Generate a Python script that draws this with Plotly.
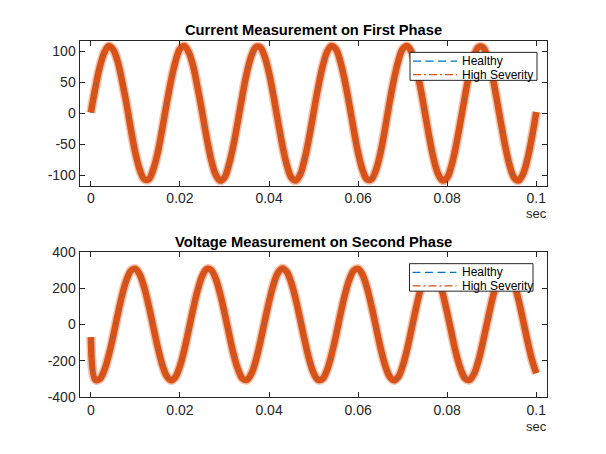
import plotly.graph_objects as go

# time axis (seconds), 1 ms steps
t = [round(k * 0.001, 3) for k in range(101)]

current_healthy = [
    0, 40, 74, 98, 108, 103, 83, 52, 14, -27,
    -64, -91, -106, -106, -91, -64, -27, 14, 52, 83,
    103, 108, 98, 74, 40, 0, -40, -74, -98, -108,
    -103, -83, -52, -14, 27, 64, 91, 106, 106, 91,
    64, 27, -14, -52, -83, -103, -108, -98, -74, -40,
    0, 40, 74, 98, 108, 103, 83, 52, 14, -27,
    -64, -91, -106, -106, -91, -64, -27, 14, 52, 83,
    103, 108, 98, 74, 40, 0, -40, -74, -98, -108,
    -103, -83, -52, -14, 27, 64, 91, 106, 106, 91,
    64, 27, -14, -52, -83, -103, -108, -98, -74, -40,
    0,
]
current_high = [
    1, 41, 75, 98, 109, 103, 84, 52, 15, -27,
    -65, -92, -107, -107, -91, -64, -26, 15, 53, 84,
    104, 109, 98, 75, 40, 1, -40, -75, -99, -109,
    -104, -83, -52, -13, 28, 65, 92, 107, 107, 92,
    65, 28, -13, -52, -84, -104, -109, -99, -74, -39,
    1, 41, 75, 99, 109, 104, 84, 53, 15, -26,
    -64, -92, -107, -107, -92, -65, -27, 15, 53, 84,
    104, 109, 99, 75, 41, 1, -40, -75, -99, -109,
    -104, -84, -52, -13, 28, 65, 92, 107, 107, 92,
    65, 28, -13, -52, -84, -104, -109, -99, -75, -40,
    2,
]
voltage_healthy = [
    -90, -305, -300, -253, -170, -64, 51, 160, 245, 297,
    306, 273, 201, 101, -13, -125, -220, -284, -308, -289,
    -229, -137, -26, 89, 191, 267, 305, 300, 253, 170,
    64, -51, -160, -245, -297, -306, -273, -201, -101, 13,
    125, 220, 284, 308, 289, 229, 137, 26, -89, -191,
    -267, -305, -300, -253, -170, -64, 51, 160, 245, 297,
    306, 273, 201, 101, -13, -125, -220, -284, -308, -289,
    -229, -137, -26, 89, 191, 267, 305, 300, 253, 170,
    64, -51, -160, -245, -297, -306, -273, -201, -101, 13,
    125, 220, 284, 308, 289, 229, 137, 26, -89, -191,
    -267,
]
voltage_high = [
    -70, -306, -301, -254, -171, -65, 52, 161, 246, 298,
    307, 274, 202, 102, -12, -126, -221, -285, -309, -290,
    -230, -138, -25, 90, 192, 268, 306, 301, 254, 171,
    65, -50, -161, -246, -298, -307, -274, -202, -100, 14,
    126, 221, 285, 309, 290, 230, 138, 27, -88, -192,
    -268, -306, -301, -254, -171, -65, 52, 161, 246, 298,
    307, 274, 202, 102, -12, -126, -221, -285, -309, -290,
    -230, -138, -25, 90, 192, 268, 306, 301, 254, 171,
    65, -50, -161, -246, -298, -307, -274, -202, -100, 14,
    126, 221, 285, 309, 290, 230, 138, 27, -88, -192,
    -270,
]

x_tickvals = [0, 0.02, 0.04, 0.06, 0.08, 0.1]
x_ticktext = ["0", "0.02", "0.04", "0.06", "0.08", "0.1"]
cur_ticks = [-100, -50, 0, 50, 100]
cur_ticktext = ["-100", "-50", "0", "50", "100"]
volt_ticks = [-400, -200, 0, 200, 400]
volt_ticktext = ["-400", "-200", "0", "200", "400"]
series_names = ["Healthy", "High Severity"]
titles = ["Current Measurement on First Phase", "Voltage Measurement on Second Phase"]

BLUE = "#0072BD"
ORANGE = "#D95319"
AXC = "#262626"
FONT = "Liberation Sans, Arial, sans-serif"

W, H = 606, 454


def px(x):
    return x / W


def py(y):
    return 1 - y / H


fig = go.Figure()


def add_panel(yh, ys, xa, ya):
    fig.add_trace(go.Scatter(x=t, y=ys, xaxis=xa, yaxis=ya, mode="lines",
                             showlegend=False, hoverinfo="skip",
                             line=dict(color="rgba(217,83,25,0.35)", width=9.5, shape="spline")))
    fig.add_trace(go.Scatter(x=t, y=ys, xaxis=xa, yaxis=ya, mode="lines",
                             name=series_names[1], showlegend=False,
                             line=dict(color=ORANGE, width=6.5, shape="spline")))
    fig.add_trace(go.Scatter(x=t, y=yh, xaxis=xa, yaxis=ya, mode="lines",
                             name=series_names[0], showlegend=False, opacity=0.55,
                             line=dict(color=BLUE, width=1.2, dash="1.5px,13px", shape="spline")))


add_panel(current_healthy, current_high, "x", "y")
add_panel(voltage_healthy, voltage_high, "x2", "y2")

xd = [px(79.5), px(546.5)]
y1d = [py(184), py(34.5)]
y2d = [py(403), py(253)]

axis_common = dict(showgrid=False, zeroline=False, showline=True, linecolor=AXC,
                   linewidth=1, mirror="ticks", ticks="inside", ticklen=5,
                   tickcolor=AXC, tickfont=dict(family=FONT, size=14, color=AXC))

fig.update_layout(
    width=W, height=H, autosize=False,
    margin=dict(l=0, r=0, t=0, b=0),
    paper_bgcolor="white", plot_bgcolor="white",
    font=dict(family=FONT, color=AXC),
    showlegend=False,
    xaxis=dict(domain=xd, anchor="y", range=[-0.00256, 0.1023],
               tickvals=x_tickvals, ticktext=x_ticktext, **axis_common),
    yaxis=dict(domain=y1d, anchor="x", range=[-117, 116.5], tickvals=cur_ticks,
               ticktext=cur_ticktext, ticklabelstandoff=0, **axis_common),
    xaxis2=dict(domain=xd, anchor="y2", range=[-0.00256, 0.1023],
                tickvals=x_tickvals, ticktext=x_ticktext, **axis_common),
    yaxis2=dict(domain=y2d, anchor="x2", range=[-400, 400], tickvals=volt_ticks,
                ticktext=volt_ticktext, ticklabelstandoff=0, **axis_common),
)

# titles
for txt, yc in zip(titles, [23.3, 242.5]):
    fig.add_annotation(text="<b>%s</b>" % txt, xref="paper", yref="paper",
                       x=(xd[0] + xd[1]) / 2, y=py(yc), xanchor="center", yanchor="middle",
                       showarrow=False, font=dict(family=FONT, size=14.7, color="black"))

# "sec" axis labels
for yc in [213.3, 433.3]:
    fig.add_annotation(text="sec", xref="paper", yref="paper", x=px(536.7), y=py(yc),
                       xanchor="center", yanchor="middle", showarrow=False,
                       font=dict(family=FONT, size=13, color=AXC))

# legends drawn as boxes with sample lines
legend_boxes = [(410, 46, 537, 75), (409.5, 265, 533, 293.5)]
for (x0, y0, x1, y1) in legend_boxes:
    fig.add_shape(type="rect", xref="paper", yref="paper",
                  x0=px(x0), x1=px(x1), y0=py(y1), y1=py(y0),
                  line=dict(color=AXC, width=1), fillcolor="white", opacity=1, layer="above")
    rows = [(y0 + 9, BLUE, "8px,4.5px", series_names[0]),
            (y0 + 23, ORANGE, "8px,3px,2px,3px", series_names[1])]
    for yy, col, dash, label in rows:
        fig.add_shape(type="line", xref="paper", yref="paper",
                      x0=px(x0 + 3), x1=px(x0 + 47), y0=py(yy), y1=py(yy),
                      line=dict(color=col, width=1.3, dash=dash), layer="above")
        fig.add_annotation(text=label, xref="paper", yref="paper", x=px(x0 + 50), y=py(yy),
                           xanchor="left", yanchor="middle", showarrow=False,
                           font=dict(family=FONT, size=12, color="black"))

fig.write_html(
    "out.html",
    config={"displayModeBar": False},
    post_script="document.body.style.margin='0';document.body.style.overflow='hidden';",
)
